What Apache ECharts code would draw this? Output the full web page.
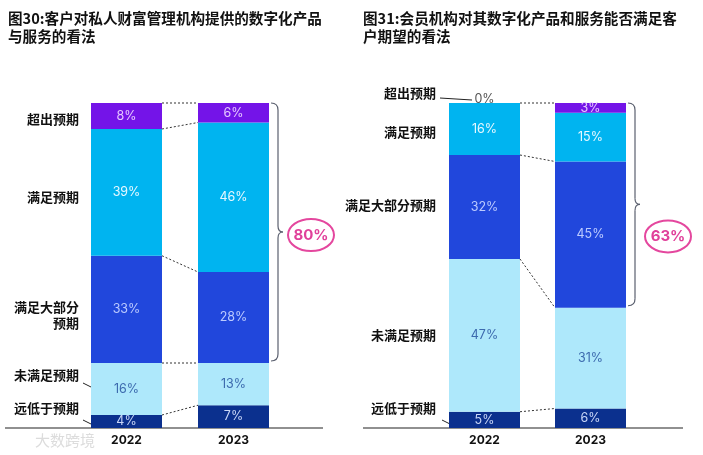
<!DOCTYPE html>
<html>
<head>
<meta charset="utf-8">
<script src="https://cdn.jsdelivr.net/npm/echarts@6/dist/echarts.min.js"></script>
<style>
  html, body { margin: 0; padding: 0; background: #fff; }
  #chart { width: 703px; height: 455px; }
</style>
</head>
<body>
<div id="chart"></div>
<script>
// 数据（自下而上）
const years = ['2022', '2023'];
const levels = ['远低于预期', '未满足预期', '满足大部分预期', '满足预期', '超出预期'];
const fig30Y2022 = [4, 16, 33, 39, 8];
const fig30Y2023 = [7, 13, 28, 46, 6];
const fig31Y2022 = [5, 47, 32, 16, 0];
const fig31Y2023 = [6, 31, 45, 15, 3];
const fig30Callout = '80%';
const fig31Callout = '63%';
const calloutFrom = 2; // 满足大部分预期及以上

const colors = ['#0b308e', '#aee8fb', '#2147dc', '#00b4f0', '#7414e8'];
const labelColors = ['#c9d6f7', '#3c6aae', '#bccbff', '#e8f8ff', '#e6c8ff'];
const CJK = '"Noto Sans CJK SC", "Noto Sans", sans-serif';
const NUM = 'Inter, "Noto Sans", sans-serif';
const BAR_W = 71;

function cumulate(arr) {
  const out = [0];
  arr.forEach(v => out.push(out[out.length - 1] + v));
  return out;
}

function barSeries(g, a, b) {
  return levels.map((name, i) => ({
    name: name,
    type: 'bar',
    stack: 's' + g,
    xAxisIndex: g,
    yAxisIndex: g,
    barWidth: BAR_W,
    itemStyle: { color: colors[i] },
    label: {
      show: true, position: 'inside', color: labelColors[i],
      fontFamily: NUM, fontSize: 12.5, formatter: '{c}%'
    },
    data: [a[i], b[i]].map(v => v === 0
      ? { value: 0, label: { position: 'top', color: '#555', distance: -3 } }
      : v)
  }));
}

// 虚线连接两根柱子的分段边界
function connectorSeries(g, a, b) {
  const ca = cumulate(a), cb = cumulate(b);
  const data = [];
  for (let k = 1; k < ca.length; k++) {
    if (k < a.length && a[k] === 0) continue;
    data.push([0, ca[k], cb[k]]);
  }
  return {
    type: 'custom', xAxisIndex: g, yAxisIndex: g, silent: true, z: 5,
    encode: { x: 0, y: 1 },
    data: data,
    renderItem: (params, api) => {
      const p0 = api.coord([0, api.value(1)]);
      const p1 = api.coord([1, api.value(2)]);
      return {
        type: 'line',
        shape: { x1: p0[0] + BAR_W / 2, y1: p0[1], x2: p1[0] - BAR_W / 2, y2: p1[1] },
        style: { stroke: '#333', lineWidth: 1, lineDash: [2, 2] }
      };
    }
  };
}

// 大括号 + 圈出的合计
function braceSeries(g, b, text, dy) {
  const cb = cumulate(b);
  return {
    type: 'custom', xAxisIndex: g, yAxisIndex: g, silent: true, z: 6,
    encode: { x: 0, y: 1 },
    data: [[1, cb[cb.length - 1], cb[calloutFrom]]],
    renderItem: (params, api) => {
      const top = api.coord([1, api.value(1)]);
      const bot = api.coord([1, api.value(2)]);
      const x0 = top[0] + BAR_W / 2 + 2, xm = x0 + 7, tip = x0 + 12;
      const yt = top[1], yb = bot[1] - 2, ym = (yt + yb) / 2;
      const st = { stroke: '#5a5f6e', lineWidth: 1.2, fill: null };
      return {
        type: 'group',
        children: [
          { type: 'bezierCurve', shape: { x1: x0, y1: yt, cpx1: xm, cpy1: yt, x2: xm, y2: yt + 7 }, style: st },
          { type: 'line', shape: { x1: xm, y1: yt + 7, x2: xm, y2: ym - 6 }, style: st },
          { type: 'bezierCurve', shape: { x1: xm, y1: ym - 6, cpx1: xm, cpy1: ym, x2: tip, y2: ym }, style: st },
          { type: 'bezierCurve', shape: { x1: tip, y1: ym, cpx1: xm, cpy1: ym, x2: xm, y2: ym + 6 }, style: st },
          { type: 'line', shape: { x1: xm, y1: ym + 6, x2: xm, y2: yb - 7 }, style: st },
          { type: 'bezierCurve', shape: { x1: xm, y1: yb - 7, cpx1: xm, cpy1: yb, x2: x0, y2: yb }, style: st },
          { type: 'ellipse', shape: { cx: tip + 28, cy: ym + dy, rx: 23, ry: 16 },
            style: { stroke: '#e4479e', lineWidth: 2, fill: null } },
          { type: 'text', x: tip + 28, y: ym + dy,
            style: { text: text, fill: '#e0409a', font: 'bold 15px ' + NUM, align: 'center', verticalAlign: 'middle' } }
        ]
      };
    }
  };
}

function catLabel(x, y, text) {
  return {
    type: 'text', x: x, y: y, silent: true,
    style: { text: text, fill: '#111', font: 'bold 13px ' + CJK, align: 'right', verticalAlign: 'middle' }
  };
}
function titleLine(x, y, text) {
  return {
    type: 'text', x: x, y: y, silent: true,
    style: { text: text, fill: '#111', font: 'bold 14.6px ' + CJK, align: 'left', verticalAlign: 'middle' }
  };
}
function stroke(x1, y1, x2, y2, w) {
  return { type: 'line', silent: true, shape: { x1, y1, x2, y2 }, style: { stroke: '#222', lineWidth: w || 1 } };
}

const chart = echarts.init(document.getElementById('chart'));

const xAxisBase = {
  type: 'category',
  data: years,
  axisLine: { show: false },
  axisTick: { show: false },
  axisLabel: { color: '#111', fontFamily: NUM, fontWeight: 'bold', fontSize: 12, margin: 6 }
};
const yAxisBase = { type: 'value', min: 0, max: 100, show: false };

chart.setOption({
  animation: false,
  grid: [
    { left: 73, width: 214, top: 103, height: 325 },
    { left: 431.5, width: 212, top: 103, height: 325 }
  ],
  xAxis: [
    Object.assign({ gridIndex: 0 }, xAxisBase),
    Object.assign({ gridIndex: 1 }, xAxisBase)
  ],
  yAxis: [
    Object.assign({ gridIndex: 0 }, yAxisBase),
    Object.assign({ gridIndex: 1 }, yAxisBase)
  ],
  series: [].concat(
    barSeries(0, fig30Y2022, fig30Y2023),
    barSeries(1, fig31Y2022, fig31Y2023),
    [connectorSeries(0, fig30Y2022, fig30Y2023),
     connectorSeries(1, fig31Y2022, fig31Y2023),
     braceSeries(0, fig30Y2023, fig30Callout, 3),
     braceSeries(1, fig31Y2023, fig31Callout, 32)]
  ),
  graphic: [
    titleLine(8, 18, '图30:客户对私人财富管理机构提供的数字化产品'),
    titleLine(8, 36, '与服务的看法'),
    titleLine(363, 18, '图31:会员机构对其数字化产品和服务能否满足客'),
    titleLine(363, 36, '户期望的看法'),
    // 基线
    stroke(5, 428, 323, 428, 1.2),
    stroke(363, 428, 683, 428, 1.2),
    // 图30 分类标签
    catLabel(79, 119, '超出预期'),
    catLabel(79, 197, '满足预期'),
    catLabel(79, 307, '满足大部分'),
    catLabel(79, 323, '预期'),
    catLabel(79, 375, '未满足预期'),
    catLabel(79, 408, '远低于预期'),
    stroke(83, 383, 97, 390),
    stroke(83, 420, 97, 427),
    // 图31 分类标签
    catLabel(436, 93, '超出预期'),
    catLabel(436, 132, '满足预期'),
    catLabel(436, 205, '满足大部分预期'),
    catLabel(436, 335, '未满足预期'),
    catLabel(436, 408, '远低于预期'),
    stroke(440, 98, 472, 100),
    stroke(442, 420, 452, 425),
    // 水印
    {
      type: 'text', x: 35, y: 440, silent: true,
      style: { text: '大数跨境', fill: '#dcdcdc', font: '15px ' + CJK, align: 'left', verticalAlign: 'middle' }
    }
  ]
});
</script>
</body>
</html>
